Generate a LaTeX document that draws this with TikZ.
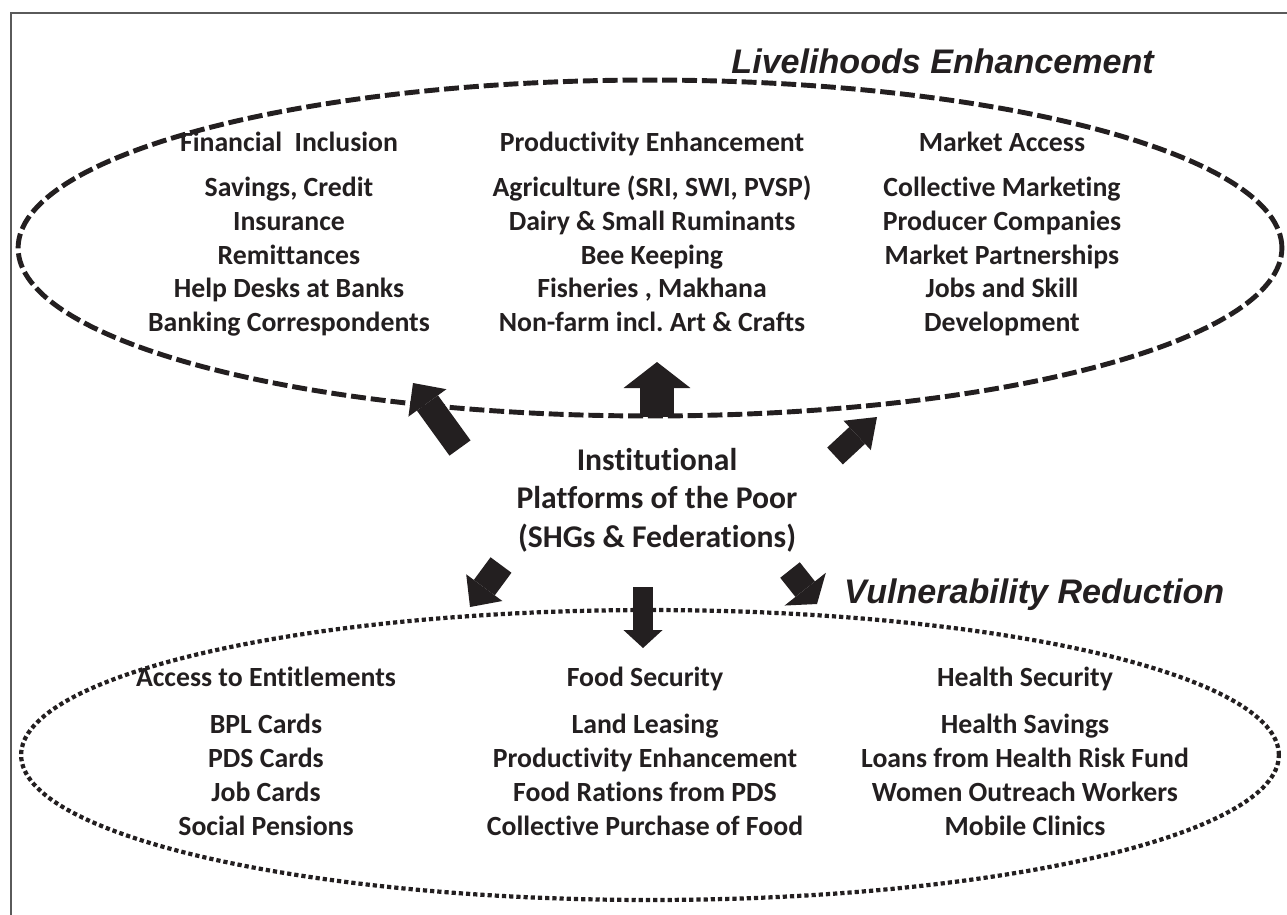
\documentclass[tikz,border=0pt]{standalone}
\usepackage{fontspec}
\setmainfont{Carlito}[Ligatures=NoCommon]
\newfontfamily\headfont{Liberation Sans}
\usetikzlibrary{arrows.meta}
\frenchspacing

\definecolor{ink}{RGB}{35,31,32}
\definecolor{framegray}{RGB}{90,90,90}

\tikzset{
  col/.style={align=center, anchor=north, inner sep=0pt, text=ink,
    font=\bfseries\fontsize{15.8}{19.2}\selectfont},
  hub/.style={align=center, text=ink, font=\bfseries\fontsize{18}{21.9}\selectfont},
  theme/.style={text=ink, font=\headfont\bfseries\itshape\fontsize{19.4}{23}\selectfont},
  dashring/.style={draw=ink, line width=2.8pt, dash pattern=on 8.5pt off 2.8pt},
  dotring/.style={draw=ink, line width=2.4pt, dash pattern=on 2.4pt off 1.7pt},
  blockarrow/.style n args={3}{draw=ink, line width=#1,
    -{Triangle[width=#2, length=#3, line width=0pt]}}
}

\begin{document}
\begin{tikzpicture}[x=0.02cm, y=-0.02cm]
  \clip (0,0) rectangle (1287,914);
  \draw[framegray, line width=0.8pt] (11,13) rectangle (1300,930);

  % the two rings
  \draw[dashring] (650,248) ellipse [x radius=12.64cm, y radius=3.36cm];
  \draw[dotring] (650,755) ellipse [x radius=12.58cm, y radius=2.9cm];

  % arrow ends
  \coordinate (ul0) at (460,448); \coordinate (ul1) at (413,383);
  \coordinate (uc0) at (657,417); \coordinate (uc1) at (657,362);
  \coordinate (ur0) at (835,456); \coordinate (ur1) at (877,417);
  \coordinate (ll0) at (501,565); \coordinate (ll1) at (470,607);
  \coordinate (lc0) at (643,587); \coordinate (lc1) at (643,648);
  \coordinate (lr0) at (790,570); \coordinate (lr1) at (817,604);
  \foreach \c/\s/\w/\l in {ul/14.8pt/26.7pt/14pt, uc/19.9pt/38.1pt/14.8pt,
      ur/13.1pt/22.8pt/15.4pt, ll/14.8pt/25.6pt/13.7pt,
      lc/11.4pt/22.2pt/10.2pt, lr/14.2pt/30pt/10.8pt}{
    \draw[blockarrow={\s}{\w}{\l}] (\c0) -- (\c1);
  }

  \node[theme, anchor=base east] (livtitle) at (1160,73) {Livelihoods Enhancement};
  \node[theme, anchor=base west] (vultitle) at (838,603) {Vulnerability Reduction};

  \node[hub] (poor) at (657,500) {Institutional\\Platforms of the Poor\\(SHGs \& Federations)};

  % livelihoods columns
  \node[col] (fin) at (289,128) {\strut Financial~~Inclusion\\[6.3pt]Savings, Credit\\Insurance\\Remittances\\Help Desks at Banks\\Banking Correspondents};
  \node[col] (prod) at (652,128) {\strut Productivity Enhancement\\[6.3pt]Agriculture (SRI, SWI, PVSP)\\Dairy \& Small Ruminants\\Bee Keeping\\Fisheries , Makhana\\Non-farm incl. Art \& Crafts};
  \node[col] (mkt) at (1002,128) {\strut Market Access\\[6.3pt]Collective Marketing\\Producer Companies\\Market Partnerships\\Jobs and Skill\\Development};

  % vulnerability columns
  \node[col] (ent) at (266,663) {\strut Access to Entitlements\\[7.5pt]BPL Cards\\PDS Cards\\Job Cards\\Social Pensions};
  \node[col] (food) at (645,663) {\strut Food Security\\[7.5pt]Land Leasing\\Productivity Enhancement\\Food Rations from PDS\\Collective Purchase of Food};
  \node[col] (health) at (1025,663) {\strut Health Security\\[7.5pt]Health Savings\\Loans from Health Risk Fund\\Women Outreach Workers\\Mobile Clinics};
\end{tikzpicture}
\end{document}
